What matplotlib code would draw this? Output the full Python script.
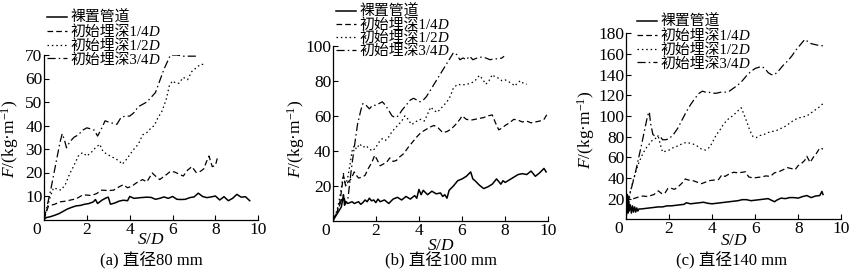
import matplotlib
matplotlib.use("Agg")
import matplotlib.pyplot as plt
import matplotlib.transforms as mtransforms

plt.rcParams['font.family'] = ['Liberation Serif', 'Noto Sans CJK SC']
plt.rcParams['mathtext.fontset'] = 'custom'
plt.rcParams['mathtext.rm'] = 'Liberation Serif'
plt.rcParams['mathtext.it'] = 'Liberation Serif:italic'
plt.rcParams['mathtext.bf'] = 'Liberation Serif:bold'
plt.rcParams['axes.unicode_minus'] = True

# ---------------- data ----------------
series_labels = ["裸置管道", "初始埋深1/4", "初始埋深1/2", "初始埋深3/4"]
series_suffix = ["", "D", "D", "D"]   # italic D appended to labels
captions = ["(a) 直径80 mm", "(b) 直径100 mm", "(c) 直径140 mm"]
xticks = [0, 2, 4, 6, 8, 10]
yticks_a = [10, 20, 30, 40, 50, 60, 70]
yticks_b = [20, 40, 60, 80, 100]
yticks_c = [20, 40, 60, 80, 100, 120, 140, 160, 180]

# (a) 80 mm
a_bare_s = [0, 0.1, 0.3, 0.5, 0.7, 0.9, 1.1, 1.3, 1.5, 1.7, 1.9, 2.1, 2.3, 2.4, 2.5, 2.7, 2.9, 3.0, 3.1, 3.3,
            3.5, 3.7, 3.9, 4.0, 4.2, 4.5, 4.8, 5.0, 5.2, 5.4, 5.6, 5.8, 6.0, 6.2, 6.4, 6.6, 6.8, 7.0, 7.2, 7.4,
            7.6, 7.8, 8.0, 8.2, 8.4, 8.6, 8.8, 9.0, 9.2, 9.4, 9.6]
a_bare_F = [0, 0.8, 1.2, 1.8, 2.5, 3.5, 4.5, 5.2, 5.8, 6.0, 6.5, 6.8, 7.5, 8.5, 6.8, 8.2, 9.2, 9.5, 6.5, 7.0,
            7.8, 8.2, 8.0, 9.8, 9.0, 9.3, 9.5, 9.4, 8.6, 9.0, 9.6, 9.0, 9.8, 8.6, 8.5, 8.6, 9.3, 9.6, 11.2, 9.8,
            9.3, 9.6, 10.0, 8.3, 9.7, 8.0, 9.0, 10.7, 9.5, 9.7, 8.0]
a_q_s = [0, 0.1, 0.2, 0.3, 0.5, 0.75, 1.0, 1.2, 1.5, 1.8, 2.0, 2.2, 2.45, 2.7, 3.0, 3.25, 3.5, 3.7, 3.9, 4.1,
         4.3, 4.6, 4.8, 5.05, 5.2, 5.4, 5.7, 5.9, 6.1, 6.3, 6.5, 6.7, 6.9, 7.1, 7.3, 7.45, 7.6, 7.7, 7.85, 8.0, 8.1]
a_q_F = [0, 3, 5.5, 6, 6.5, 7.5, 7.8, 8.2, 8.8, 10.4, 10.4, 10.2, 11, 12.5, 12.3, 12.5, 13.9, 14.8, 13.5, 14.2,
         15.5, 17, 16, 19.8, 18.5, 17, 19, 20.5, 20.2, 19.3, 18.5, 21, 22.5, 20, 20.5, 21.5, 25, 27, 22.5, 23, 26.5]
a_h_s = [0, 0.15, 0.3, 0.45, 0.6, 0.8, 1.0, 1.2, 1.4, 1.6, 1.8, 2.0, 2.2, 2.4, 2.6, 2.75, 2.9, 3.1, 3.3, 3.5,
         3.65, 3.8, 4.0, 4.2, 4.4, 4.6, 4.8, 5.0, 5.15, 5.3, 5.5, 5.7, 5.85, 6.0, 6.15, 6.3, 6.5, 6.7, 6.9, 7.1,
         7.3, 7.45]
a_h_F = [0, 5, 10, 13.5, 13, 12.5, 15, 19.5, 23, 27, 28.5, 27, 28.5, 30.5, 32, 29, 28, 27, 26, 25,
         23.5, 25, 27.5, 30, 32, 36, 37, 39, 40, 43, 46, 51, 57, 59, 58, 58, 60.5, 59.5, 63, 64.5,
         66, 66]
a_t_s = [0, 0.15, 0.3, 0.45, 0.6, 0.75, 0.85, 0.95, 1.05, 1.2, 1.4, 1.6, 1.8, 2.0, 2.2, 2.35, 2.5, 2.65, 2.85,
         3.0, 3.2, 3.4, 3.6, 3.8, 4.0, 4.2, 4.4, 4.6, 4.8, 5.0, 5.2, 5.4, 5.6, 5.8, 5.9, 6.2, 6.5, 6.8, 7.1]
a_t_F = [0, 6, 12, 19, 26, 33, 36.5, 34, 30.5, 33, 35, 36, 38, 39, 38.5, 38, 35.5, 38, 42,
         41.5, 41, 40.5, 43.5, 44, 44, 45.5, 48, 49, 50, 52, 54, 59, 64, 68, 70, 70, 69.5, 69.5, 69.5]

# (b) 100 mm
b_bare_s = [0, 0.1, 0.2, 0.3, 0.4, 0.5, 0.55, 0.6, 0.7, 0.8, 0.9, 1.0, 1.1, 1.2, 1.3, 1.4, 1.5, 1.6, 1.7, 1.8,
            1.9, 2.0, 2.1, 2.2, 2.4, 2.6, 2.8, 3.0, 3.2, 3.4, 3.6, 3.8, 3.9, 4.0, 4.1, 4.2, 4.4, 4.6, 4.8, 5.0,
            5.1, 5.2, 5.3, 5.4, 5.6, 5.8, 6.0, 6.2, 6.4, 6.5, 6.6, 6.8, 7.0, 7.2, 7.4, 7.6, 7.8, 7.9, 8.0, 8.2,
            8.4, 8.6, 8.8, 9.0, 9.2, 9.4, 9.6, 9.8, 9.9]
b_bare_F = [0, 2, 4, 6, 8, 15, 9, 11, 10, 10.5, 11, 10, 10.5, 11, 9.5, 10.5, 12, 11, 13, 11.5,
            12, 10.5, 12.5, 11, 12, 10, 12.5, 13.5, 12, 14, 12.5, 14.5, 13, 18, 15, 17.5, 15, 17, 15.5, 16,
            14, 15, 13, 17.5, 20, 23, 24, 25.5, 28, 24, 23, 20.5, 18.5, 19.5, 21, 24, 21, 23, 22, 23.5,
            25, 26.5, 27, 26.5, 28.5, 25.5, 27.5, 30, 28]
b_q_s = [0, 0.2, 0.35, 0.5, 0.6, 0.7, 0.85, 1.0, 1.1, 1.2, 1.35, 1.5, 1.65, 1.8, 1.95, 2.1, 2.2, 2.35, 2.5, 2.65,
         2.8, 2.95, 3.1, 3.3, 3.5, 3.7, 3.9, 4.1, 4.3, 4.5, 4.7, 4.9, 5.1, 5.3, 5.5, 5.7, 5.9, 6.0, 6.2, 6.4,
         6.6, 6.8, 7.0, 7.2, 7.4, 7.55, 7.7, 7.85, 8.0, 8.2, 8.4, 8.6, 8.8, 9.0, 9.2, 9.4, 9.6, 9.8, 9.95]
b_q_F = [0, 5, 12, 26, 20, 22, 24, 28, 26, 24.5, 25, 26, 30, 33, 37.5, 34, 31.5, 32.5, 33.5, 36,
         34, 34.5, 36.5, 38.5, 42, 45, 48, 50.5, 52, 53.5, 54.5, 53, 50.5, 51, 52.5, 55, 58, 60, 58, 57.5,
         58, 58.5, 59, 60, 60.5, 56, 52, 53, 54.5, 56, 58, 57.5, 56.5, 57, 56, 56.5, 57, 58, 61]
b_h_s = [0, 0.2, 0.35, 0.5, 0.6, 0.7, 0.8, 0.9, 1.0, 1.1, 1.25, 1.4, 1.55, 1.7, 1.85, 2.0, 2.15, 2.3, 2.45, 2.6,
         2.75, 2.9, 3.05, 3.2, 3.35, 3.5, 3.65, 3.8, 3.95, 4.1, 4.25, 4.4, 4.55, 4.7, 4.85, 5.0, 5.15, 5.3, 5.45, 5.6,
         5.8, 6.0, 6.2, 6.4, 6.6, 6.8, 6.95, 7.1, 7.25, 7.4, 7.55, 7.7, 7.85, 8.0, 8.15, 8.3, 8.45, 8.55, 8.7, 8.85,
         9.0]
b_h_F = [0, 6, 15, 27, 20, 25, 32, 40, 43, 41, 44, 42, 43, 41, 40, 42, 45, 47, 46, 48,
         51, 53, 55, 57, 60, 58, 55, 56, 57.5, 58, 57, 61, 65, 63, 62, 64, 66, 68, 71, 76,
         78, 77.5, 78, 78.5, 80, 83, 81, 78, 80, 83.5, 82, 81.5, 80, 80.5, 79.5, 78.5, 77, 78.5, 80, 78.5,
         78]
b_t_s = [0, 0.2, 0.35, 0.5, 0.6, 0.7, 0.85, 1.0, 1.15, 1.3, 1.4, 1.55, 1.7, 1.85, 2.0, 2.15, 2.3, 2.45, 2.6, 2.75,
         2.9, 3.05, 3.2, 3.4, 3.6, 3.75, 3.9, 4.05, 4.2, 4.35, 4.5, 4.7, 4.9, 5.1, 5.3, 5.45, 5.6, 5.75, 5.9, 6.05,
         6.2, 6.35, 6.5, 6.7, 6.9, 7.1, 7.3, 7.5, 7.7, 7.85, 7.95]
b_t_F = [0, 5, 10, 15, 10, 12, 28, 42, 55, 63, 67, 66, 64, 66, 66, 67, 68, 66, 63, 60,
         59, 60, 63, 66, 69, 70, 69, 68, 69, 71, 74, 78, 82, 86, 90, 93, 96, 95, 92, 93,
         92, 94, 92, 93, 93.5, 93, 92, 92.5, 92.5, 93, 94]

# (c) 140 mm
c_bare_s = [0, 0.03, 0.06, 0.09, 0.12, 0.15, 0.2, 0.25, 0.3, 0.35, 0.4, 0.45, 0.5, 0.55, 0.6, 0.7, 0.9, 1.1, 1.3, 1.5,
            1.7, 1.9, 2.1, 2.3, 2.5, 2.7, 2.8, 3.0, 3.2, 3.4, 3.6, 3.8, 4.0, 4.2, 4.4, 4.6, 4.8, 5.0, 5.2, 5.4,
            5.6, 5.8, 6.0, 6.2, 6.4, 6.6, 6.8, 6.9, 7.0, 7.2, 7.4, 7.6, 7.8, 8.0, 8.2, 8.4, 8.6, 8.8, 9.0, 9.1,
            9.15]
c_bare_F = [0, 12, 24, 6, 18, 8, 14, 6, 13, 7, 12, 7, 11, 8, 10, 10, 10.5, 11, 11.5, 12,
            12, 13, 13, 13.5, 14, 14.5, 16, 15, 15.5, 16, 16.5, 15.5, 15, 15.5, 16, 16.5, 17, 17.5, 18, 19,
            19, 18, 18.5, 19, 19.5, 20, 18, 17, 18.5, 20.5, 20, 21, 21, 20.5, 22, 23, 21, 22.5, 23, 27,
            24]
c_q_s = [0, 0.05, 0.1, 0.2, 0.35, 0.5, 0.65, 0.8, 1.0, 1.15, 1.3, 1.5, 1.65, 1.8, 1.95, 2.1, 2.25, 2.4, 2.6, 2.75,
         2.9, 3.1, 3.3, 3.5, 3.7, 3.9, 4.1, 4.3, 4.45, 4.6, 4.8, 5.0, 5.2, 5.4, 5.55, 5.7, 5.9, 6.1, 6.3, 6.5,
         6.7, 6.9, 7.1, 7.3, 7.5, 7.7, 7.85, 8.0, 8.15, 8.3, 8.4, 8.55, 8.7, 8.85, 9.0, 9.15]
c_q_F = [0, 15, 20, 21, 20, 21, 22, 22.5, 22, 23, 24, 27.5, 25, 25, 30, 30, 29, 31, 35, 39,
         38, 37.5, 36, 34.5, 36, 37.5, 38, 38.5, 43, 41.5, 44, 45.5, 45, 45.5, 46, 41, 40, 40.5, 41, 42,
         41.5, 45, 46, 48, 50, 49, 48, 52, 54, 57, 61, 55, 60, 64, 69, 68]
c_h_s = [0, 0.1, 0.2, 0.3, 0.45, 0.6, 0.75, 0.9, 1.05, 1.2, 1.35, 1.5, 1.6, 1.7, 1.85, 2.0, 2.15, 2.3, 2.5, 2.7,
         2.9, 3.1, 3.3, 3.5, 3.7, 3.9, 4.05, 4.2, 4.35, 4.5, 4.65, 4.8, 4.95, 5.1, 5.25, 5.35, 5.45, 5.6, 5.75, 5.9,
         6.05, 6.2, 6.4, 6.6, 6.8, 7.0, 7.2, 7.4, 7.6, 7.8, 8.0, 8.2, 8.4, 8.6, 8.8, 9.0, 9.15]
c_h_F = [0, 18, 26, 35, 46, 55, 62, 68, 72, 76, 78, 80, 72, 65, 66, 67, 69, 70, 72, 74,
         74, 73, 71, 68, 67, 70, 76, 82, 86, 91, 95, 98, 100, 103, 106, 108, 103, 95, 86, 80,
         79, 81, 82, 84, 85, 86, 88, 90, 93, 96, 98, 99, 100, 103, 106, 109, 112]
c_t_s = [0, 0.1, 0.25, 0.4, 0.55, 0.7, 0.85, 1.0, 1.08, 1.15, 1.25, 1.4, 1.55, 1.7, 1.85, 2.0, 2.2, 2.4, 2.6, 2.8,
         3.0, 3.2, 3.4, 3.55, 3.7, 3.85, 4.0, 4.2, 4.4, 4.6, 4.8, 5.0, 5.2, 5.4, 5.6, 5.8, 6.0, 6.15, 6.3, 6.45,
         6.6, 6.75, 6.9, 7.1, 7.3, 7.5, 7.7, 7.9, 8.1, 8.3, 8.45, 8.6, 8.8, 9.0, 9.15]
c_t_F = [0, 20, 30, 42, 56, 70, 85, 100, 104, 92, 82, 80, 81, 77, 77, 78, 82, 88, 96, 104,
         111, 117, 122, 124, 123, 123, 122, 122, 123, 123, 124, 127, 130, 134, 139, 143, 146, 147, 148, 146,
         142, 140, 140, 144, 149, 153, 158, 164, 169, 174, 172, 170, 169, 168, 168]

# ---------------- styles ----------------
styles = [
    dict(color='black', lw=1.1, linestyle='-'),
    dict(color='black', lw=0.9, linestyle=(0, (4.5, 2.5))),
    dict(color='black', lw=0.9, linestyle=(0, (1.2, 2.3))),
    dict(color='black', lw=0.9, linestyle=(0, (6.5, 2.5, 1.2, 2.5))),
]

W, H = 868, 279
fig = plt.figure(figsize=(W / 100, H / 100), dpi=100)

def px_rect(x0, x1, y_top, y_bot):
    return [x0 / W, 1 - y_bot / H, (x1 - x0) / W, (y_bot - y_top) / H]

panels = [
    dict(rect=px_rect(44, 258.3, 55, 219.5), ymax=70, yticks=yticks_a,
         data=[(a_bare_s, a_bare_F), (a_q_s, a_q_F), (a_h_s, a_h_F), (a_t_s, a_t_F)],
         leg=(47, 11), lspace=0.0, ylab=(-0.105, 0.49), xlab_y=-0.075, cap=(151, 261)),
    dict(rect=px_rect(332.7, 548.3, 45.7, 221), ymax=100, yticks=yticks_b,
         data=[(b_bare_s, b_bare_F), (b_q_s, b_q_F), (b_h_s, b_h_F), (b_t_s, b_t_F)],
         leg=(336, 5), lspace=-0.05, ylab=(-0.12, 0.47), xlab_y=-0.095, cap=(441, 261)),
    dict(rect=px_rect(626, 841.3, 33.3, 219.3), ymax=180, yticks=yticks_c,
         data=[(c_bare_s, c_bare_F), (c_q_s, c_q_F), (c_h_s, c_h_F), (c_t_s, c_t_F)],
         leg=(637, 15), lspace=0.0, ylab=(-0.135, 0.48), xlab_y=-0.075, cap=(732, 261)),
]

LEG_FS = 10.7
for i, p in enumerate(panels):
    ax = fig.add_axes(p['rect'])
    handles = []
    for (s, F), st, lab in zip(p['data'], styles, series_labels):
        h, = ax.plot(s, F, label=lab, **st)
        handles.append(h)
    ax.set_xlim(0, 10)
    ax.set_ylim(0, p['ymax'])
    ax.set_xticks(xticks)
    ax.set_yticks(p['yticks'])
    ax.spines['top'].set_visible(False)
    ax.spines['right'].set_visible(False)
    for sp in ('left', 'bottom'):
        ax.spines[sp].set_linewidth(0.9)
    ax.tick_params(direction='in', length=3.5, width=0.8, labelsize=12.5, pad=1.5)
    ax.tick_params(axis='y', pad=1.0)
    lbl0 = ax.get_xticklabels()[0]
    lbl0.set_transform(lbl0.get_transform() + mtransforms.ScaledTranslation(-7.5 / 100, 0, fig.dpi_scale_trans))
    ax.set_ylabel("$F$/(kg·m$^{-1}$)", fontsize=12.5)
    ax.yaxis.set_label_coords(*p['ylab'])
    ax.set_xlabel("$S/D$", fontsize=12.5)
    ax.xaxis.set_label_coords(0.5, p['xlab_y'])
    lx, ly = p['leg']
    leg = ax.legend(handles=handles, loc='upper left', bbox_to_anchor=(lx / W, 1 - ly / H),
                    bbox_transform=fig.transFigure, frameon=False, fontsize=LEG_FS,
                    handlelength=1.35, handletextpad=0.2, borderpad=0, borderaxespad=0,
                    labelspacing=p['lspace'])
    leg.set_zorder(5)
    for t, suf in zip(leg.get_texts(), series_suffix):
        if suf:
            ax.annotate(suf, xy=(1, 0), xycoords=t, ha='left', va='bottom',
                        fontsize=LEG_FS, fontstyle='italic', family='Liberation Serif',
                        annotation_clip=False, zorder=20)
    cx, cy = p['cap']
    fig.text(cx / W, 1 - cy / H, captions[i], ha='center', va='center', fontsize=12)

fig.savefig("out.png", dpi=100)
